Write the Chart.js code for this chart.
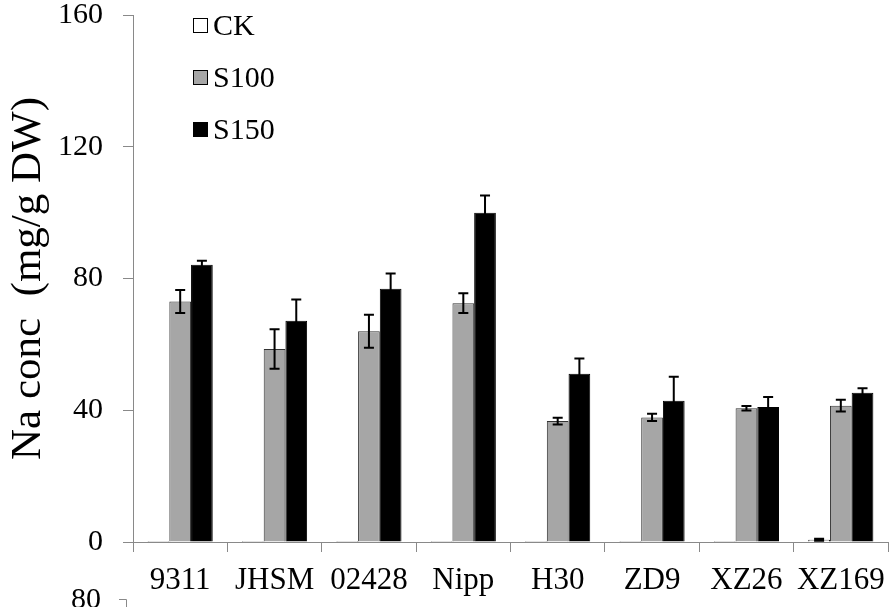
<!DOCTYPE html>
<html>
<head>
<meta charset="utf-8">
<script src="https://cdn.jsdelivr.net/npm/chart.js@4.4.1/dist/chart.umd.min.js"></script>
<style>
  html, body { margin: 0; padding: 0; background: #fff; }
  #wrap { width: 889px; height: 607px; }
</style>
</head>
<body>
<div id="wrap"><canvas id="na"></canvas></div>
<script>
// data
var cultivars = ['9311', 'JHSM', '02428', 'Nipp', 'H30', 'ZD9', 'XZ26', 'XZ169'];
var ck = [0.3, 0.3, 0.3, 0.3, 0.3, 0.3, 0.3, 0.7];
var ckErr = [0, 0, 0, 0, 0, 0, 0, 0.3];
var s100 = [73.0, 58.6, 64.0, 72.5, 36.7, 37.8, 40.6, 41.4];
var s100Err = [3.5, 6.0, 5.0, 3.0, 1.0, 1.1, 0.7, 1.8];
var s150 = [84.2, 67.2, 76.9, 100.0, 51.1, 42.9, 41.0, 45.3];
var s150Err = [1.2, 6.4, 4.6, 5.2, 4.6, 7.3, 3.0, 1.4];
var yTicks = [0, 40, 80, 120, 160];

var axisGray = '#898989';
var serif = '"Liberation Serif", "Times New Roman", serif';

var errors = [ckErr, s100Err, s150Err];

// error bars drawn from the y scale
var errorBars = {
  id: 'errorBars',
  afterDatasetsDraw: function(chart){
    var ctx = chart.ctx;
    var y = chart.scales.y;
    ctx.save();
    ctx.strokeStyle = '#000';
    ctx.lineWidth = 2;
    chart.data.datasets.forEach(function(ds, d){
      var meta = chart.getDatasetMeta(d);
      meta.data.forEach(function(bar, i){
        var e = errors[d][i];
        if(!e) return;
        var top = y.getPixelForValue(ds.data[i] + e);
        var bot = y.getPixelForValue(Math.max(ds.data[i] - e, 0));
        ctx.beginPath();
        ctx.moveTo(bar.x, top); ctx.lineTo(bar.x, bot);
        ctx.moveTo(bar.x - 5, top); ctx.lineTo(bar.x + 5, top);
        ctx.moveTo(bar.x - 5, bot); ctx.lineTo(bar.x + 5, bot);
        ctx.stroke();
      });
    });
    ctx.restore();
  }
};

// legend stacked in the top-left corner of the plot
var cornerLegend = {
  id: 'cornerLegend',
  afterDraw: function(chart){
    var ctx = chart.ctx;
    ctx.save();
    ctx.font = '30px ' + serif;
    ctx.textBaseline = 'middle';
    chart.data.datasets.forEach(function(ds, d){
      var cy = 26 + d * 52;
      ctx.fillStyle = ds.backgroundColor;
      ctx.fillRect(193, cy - 8, 15, 15);
      ctx.strokeStyle = '#000';
      ctx.lineWidth = 1;
      ctx.strokeRect(193.5, cy - 7.5, 14, 14);
      ctx.fillStyle = '#000';
      ctx.fillText(ds.label, 213, cy + 1);
    });

    // top of the next chart, cut off by the image edge
    ctx.textAlign = 'right';
    ctx.textBaseline = 'alphabetic';
    ctx.fillText('80', 101, 608);
    ctx.strokeStyle = axisGray;
    ctx.beginPath();
    ctx.moveTo(119, 599.5); ctx.lineTo(126.5, 599.5); ctx.lineTo(126.5, 607);
    ctx.stroke();
    ctx.restore();
  }
};

var opt = {
  type: 'bar',
  data: {
    labels: cultivars,
    datasets: [
      { label: 'CK', data: ck, backgroundColor: '#ffffff', borderColor: '#000', borderWidth: 1 },
      { label: 'S100', data: s100, backgroundColor: '#a6a6a6', borderColor: '#333', borderWidth: 1 },
      { label: 'S150', data: s150, backgroundColor: '#000000', borderColor: '#000', borderWidth: 1 }
    ]
  },
  options: {
    responsive: true,
    maintainAspectRatio: false,
    animation: false,
    layout: { padding: { top: 15, right: 1, left: 0, bottom: 0 } },
    datasets: { bar: { categoryPercentage: 0.69, barPercentage: 1 } },
    plugins: { legend: { display: false }, tooltip: { enabled: false } },
    scales: {
      x: {
        grid: { display: true, drawOnChartArea: false, color: axisGray, tickLength: 10, offset: true },
        border: { color: axisGray, width: 1 },
        ticks: { color: '#000', font: { family: serif, size: 31 }, padding: 10, maxRotation: 0, autoSkip: false },
        afterFit: function(s){ s.height = 65; s.paddingLeft = 0; s.paddingRight = 0; }
      },
      y: {
        min: 0, max: 160,
        afterBuildTicks: function(s){ s.ticks = yTicks.map(function(v){ return { value: v }; }); },
        grid: { display: true, drawOnChartArea: false, color: axisGray, tickLength: 10 },
        border: { color: axisGray, width: 1 },
        ticks: { color: '#000', font: { family: serif, size: 30 }, padding: 20 },
        title: { display: true, text: 'Na conc  (mg/g DW)', color: '#000', font: { family: serif, size: 43 }, padding: { top: 3, bottom: 0 } },
        afterFit: function(s){ s.width = 133; s.paddingTop = 0; s.paddingBottom = 0; }
      }
    }
  },
  plugins: [errorBars, cornerLegend]
};

var chart = new Chart(document.getElementById('na'), opt);
</script>
</body>
</html>
